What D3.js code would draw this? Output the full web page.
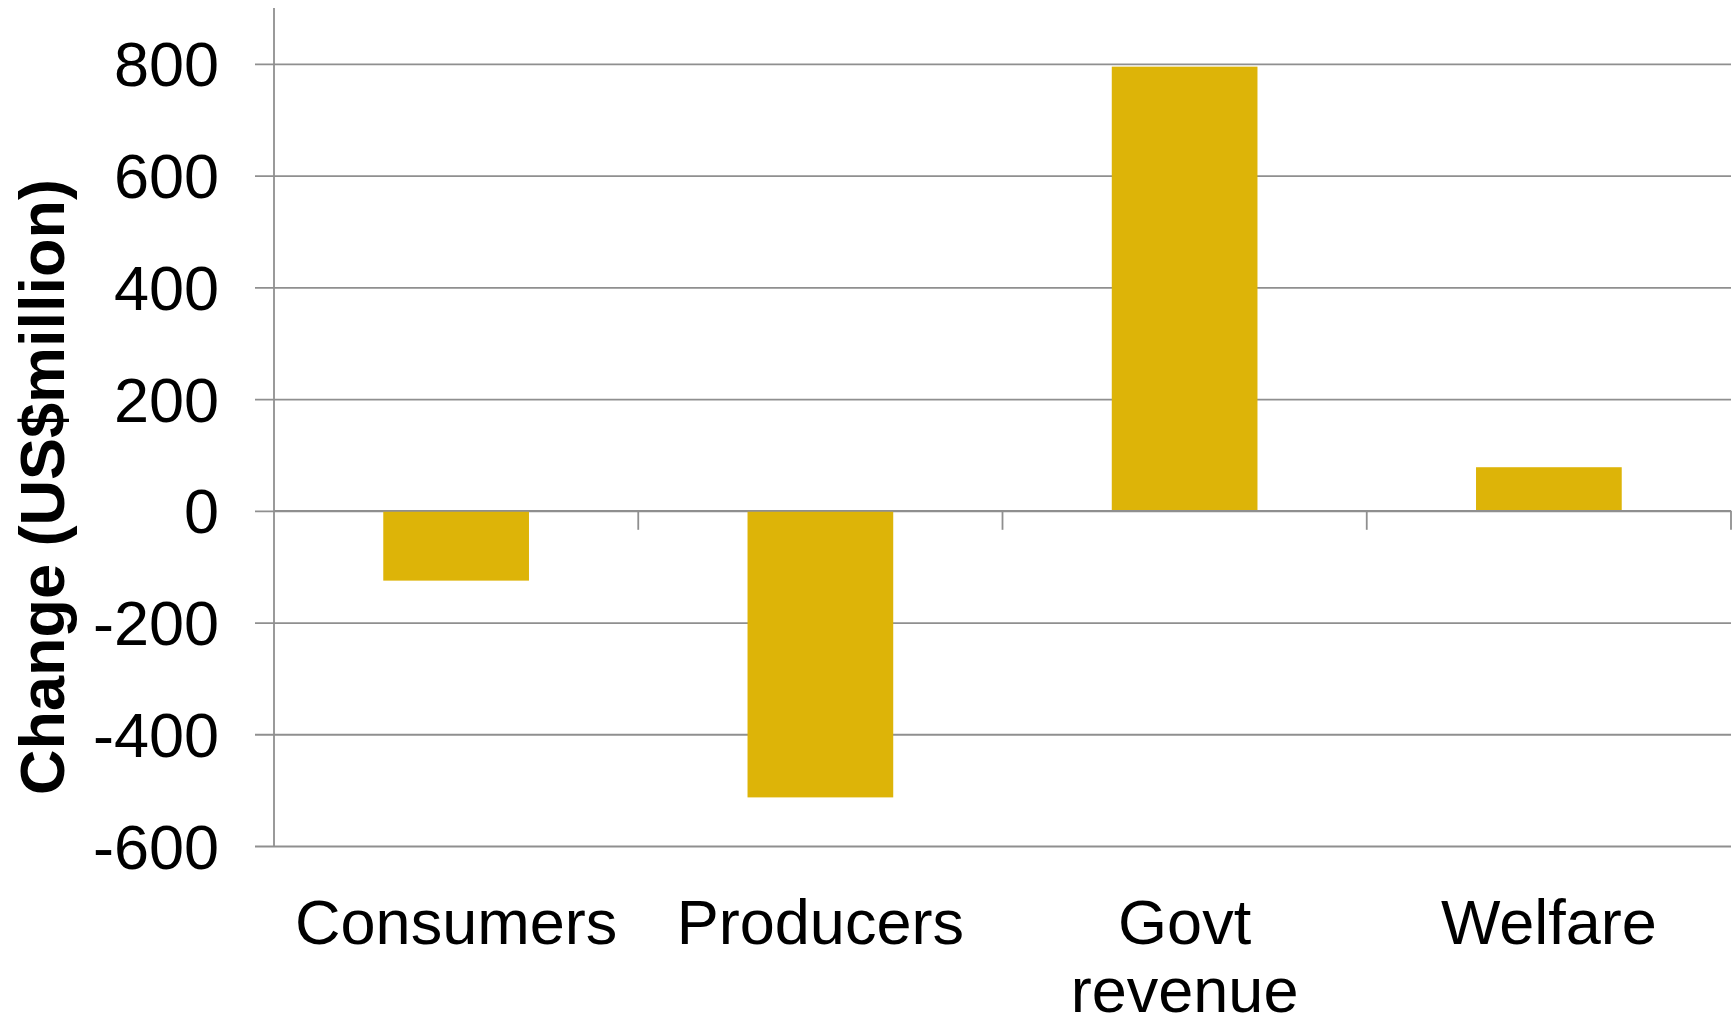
<!DOCTYPE html>
<html>
<head>
<meta charset="utf-8">
<script src="https://cdn.jsdelivr.net/npm/d3@7"></script>
<style>
  html, body { margin: 0; padding: 0; background: #ffffff; }
  svg { display: block; }
  text { font-family: "Liberation Sans", Arial, sans-serif; fill: #000; }
</style>
</head>
<body>
<svg id="chart" width="1736" height="1023"></svg>
<script>
// ---- data ----
const categories = [["Consumers"], ["Producers"], ["Govt", "revenue"], ["Welfare"]];
const categoryKeys = ["Consumers", "Producers", "Govt revenue", "Welfare"];
const values = [-125, -513, 795, 78];
const yTicks = [-600, -400, -200, 0, 200, 400, 600, 800];
const yDomain = [-600, 900];
const yTitle = "Change (US$million)";

// ---- layout ----
const W = 1736, H = 1023;
const plot = { left: 274, right: 1731, top: 8, bottom: 846 };
const barColor = "#DDB408";
const gridColor = "#8f8f8f";

const svg = d3.select("#chart");

const x = d3.scaleBand()
  .domain(categoryKeys)
  .range([plot.left, plot.right])
  .paddingInner(0.6)
  .paddingOuter(0.3);

const y = d3.scaleLinear()
  .domain(yDomain)
  .range([plot.bottom, plot.top]);

// gridlines + left ticks via axis
const yAxis = d3.axisLeft(y)
  .tickValues(yTicks)
  .tickSize(-(plot.right - plot.left))
  .tickPadding(0)
  .tickFormat("");

const gy = svg.append("g")
  .attr("transform", `translate(${plot.left},0)`)
  .call(yAxis);
gy.select(".domain").remove();
gy.selectAll(".tick line")
  .attr("x1", -19)
  .attr("stroke", gridColor)
  .attr("stroke-width", 1.8);

// y tick labels
svg.append("g").selectAll("text")
  .data(yTicks)
  .join("text")
  .attr("x", 219)
  .attr("y", d => y(d) + 22.5)
  .attr("text-anchor", "end")
  .attr("font-size", 63)
  .text(d => d);

// bars
svg.append("g").selectAll("rect")
  .data(values)
  .join("rect")
  .attr("x", (d, i) => x(categoryKeys[i]))
  .attr("width", x.bandwidth())
  .attr("y", d => y(Math.max(0, d)))
  .attr("height", d => Math.abs(y(d) - y(0)))
  .attr("fill", barColor);

// y axis line
svg.append("line")
  .attr("x1", plot.left).attr("x2", plot.left)
  .attr("y1", plot.top).attr("y2", plot.bottom)
  .attr("stroke", gridColor).attr("stroke-width", 1.8);

// x axis line at zero + category boundary ticks
svg.append("line")
  .attr("x1", plot.left).attr("x2", plot.right)
  .attr("y1", y(0)).attr("y2", y(0))
  .attr("stroke", gridColor).attr("stroke-width", 1.8);

const boundaries = categoryKeys.map(k => x(k) + x.bandwidth() / 2 + x.step() / 2);
svg.append("g").selectAll("line")
  .data(boundaries)
  .join("line")
  .attr("x1", d => d).attr("x2", d => d)
  .attr("y1", y(0)).attr("y2", y(0) + 19)
  .attr("stroke", gridColor).attr("stroke-width", 1.8);

// category labels
const cl = svg.append("g").selectAll("text")
  .data(categories)
  .join("text")
  .attr("x", (d, i) => x(categoryKeys[i]) + x.bandwidth() / 2)
  .attr("y", 944)
  .attr("text-anchor", "middle")
  .attr("font-size", 63);
cl.selectAll("tspan")
  .data((d, i) => d.map(t => ({ t, i })))
  .join("tspan")
  .attr("x", d => x(categoryKeys[d.i]) + x.bandwidth() / 2)
  .attr("dy", (d, j) => j === 0 ? 0 : 68)
  .text(d => d.t);

// y title
svg.append("text")
  .attr("transform", "translate(64,487) rotate(-90)")
  .attr("text-anchor", "middle")
  .attr("font-size", 63)
  .attr("font-weight", "bold")
  .text(yTitle);
</script>
</body>
</html>
